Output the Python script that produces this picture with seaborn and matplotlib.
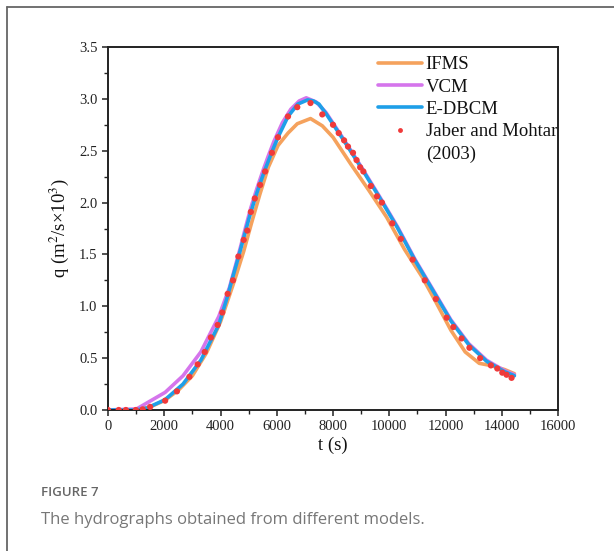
import numpy as np
import pandas as pd
import matplotlib
matplotlib.use("Agg")
import matplotlib.pyplot as plt
from matplotlib.lines import Line2D
import seaborn as sns

# ---------------- data ----------------
ifms_t = [0, 1000, 1500, 2000, 2500, 3000, 3500, 4000, 4500, 4825, 5100, 5400, 5700, 6044, 6400,
          6730, 7200, 7620, 8000, 8635, 9270, 9905, 10540, 11175, 11680, 12190, 12700, 13200,
          13590, 14100, 14450]
ifms_q = [0, 0.0, 0.03, 0.09, 0.19, 0.33, 0.55, 0.85, 1.25, 1.53, 1.80, 2.08, 2.34, 2.55, 2.67,
          2.76, 2.81, 2.74, 2.63, 2.37, 2.12, 1.86, 1.55, 1.28, 1.03, 0.77, 0.56, 0.45,
          0.43, 0.39, 0.35]

vcm_t = [0, 1016, 1397, 2032, 2667, 3302, 3937, 4317, 4500, 4700, 4900, 5079, 5300, 5500, 5700,
         5900, 6200, 6500, 6800, 7048, 7400, 7746, 8381, 9016, 9651, 10286, 10921, 11556, 12190,
         12825, 13460, 14095, 14450]
vcm_q = [0, 0.01, 0.07, 0.17, 0.33, 0.56, 0.90, 1.18, 1.36, 1.56, 1.77, 1.95, 2.14, 2.30, 2.45,
         2.59, 2.77, 2.90, 2.98, 3.01, 2.97, 2.87, 2.61, 2.34, 2.06, 1.77, 1.45, 1.16, 0.87,
         0.64, 0.48, 0.38, 0.34]

edbcm_t = [0, 1000, 1397, 2032, 2667, 3302, 3937, 4254, 4444, 4635, 4825, 5016, 5206, 5400,
           5587, 5800, 6044, 6400, 6750, 7100, 7300, 7500, 7746, 8381, 9016, 9651, 10286, 10921,
           11556, 12190, 12825, 13460, 14095, 14450]
edbcm_q = [0, 0.0, 0.02, 0.10, 0.25, 0.48, 0.82, 1.10, 1.29, 1.47, 1.66, 1.85, 2.02, 2.18,
           2.32, 2.47, 2.63, 2.83, 2.95, 2.99, 2.98, 2.95, 2.86, 2.60, 2.33, 2.05, 1.76, 1.44,
           1.15, 0.86, 0.63, 0.47, 0.37, 0.33]

obs_t = [0, 381, 635, 990, 1232, 1498, 2032, 2451, 2895, 3187, 3441, 3657, 3898, 4063, 4254,
         4444, 4635, 4825, 4952, 5079, 5219, 5410, 5587, 5829, 6044, 6400, 6730, 7200, 7619,
         8000, 8203, 8394, 8533, 8711, 8838, 8965, 9079, 9346, 9562, 9740, 10108, 10413, 10832,
         11263, 11657, 12038, 12279, 12571, 12851, 13232, 13613, 13841, 14019, 14171, 14349]
obs_q = [0, 0, 0, 0, 0.006, 0.03, 0.09, 0.18, 0.32, 0.44, 0.56, 0.70, 0.82, 0.94, 1.12,
         1.25, 1.48, 1.64, 1.73, 1.91, 2.04, 2.17, 2.30, 2.48, 2.63, 2.83, 2.92, 2.96, 2.85,
         2.75, 2.67, 2.60, 2.54, 2.48, 2.41, 2.34, 2.30, 2.16, 2.06, 2.00, 1.80, 1.65, 1.45,
         1.25, 1.07, 0.89, 0.80, 0.69, 0.60, 0.50, 0.43, 0.40, 0.36, 0.34, 0.31]

x_ticks = [0, 2000, 4000, 6000, 8000, 10000, 12000, 14000, 16000]
y_ticks = [0.0, 0.5, 1.0, 1.5, 2.0, 2.5, 3.0, 3.5]

c_ifms = "#F5A25D"
c_vcm = "#D575EC"
c_edbcm = "#1E9FE8"
c_obs = "#F03A3A"

# ---------------- plot ----------------
sns.set_theme(style="ticks")
plt.rcParams["font.family"] = ["Liberation Serif", "DejaVu Serif"]
plt.rcParams["mathtext.fontset"] = "stix"

fig = plt.figure(figsize=(6.14, 5.51), dpi=100)
ax = fig.add_axes([108 / 614, 1 - 410 / 551, 450 / 614, 363 / 551])

lw = 2.6
sns.lineplot(x=ifms_t, y=ifms_q, ax=ax, color=c_ifms, lw=lw, sort=False)
sns.lineplot(x=vcm_t, y=vcm_q, ax=ax, color=c_vcm, lw=lw, sort=False)
sns.lineplot(x=edbcm_t, y=edbcm_q, ax=ax, color=c_edbcm, lw=lw, sort=False)
sns.scatterplot(x=obs_t, y=obs_q, ax=ax, color=c_obs, s=20, edgecolor="none", zorder=5)

ax.set_xlim(0, 16000)
ax.set_ylim(0, 3.5)
ax.set_xticks(x_ticks)
ax.set_xticklabels([str(v) for v in x_ticks])
ax.set_yticks(y_ticks)
ax.set_yticklabels([f"{v:.1f}" for v in y_ticks])
ax.set_xticks(np.arange(1000, 16000, 2000), minor=True)
ax.set_yticks(np.arange(0.25, 3.5, 0.5), minor=True)
ax.tick_params(axis="both", which="major", direction="out", length=4.5, width=1.1,
               labelsize=10.5, colors="#222222", pad=3)
ax.tick_params(axis="both", which="minor", direction="out", length=3, width=1.0, colors="#222222")
for sp in ax.spines.values():
    sp.set_visible(True)
    sp.set_linewidth(1.4)
    sp.set_color("#222222")

ax.set_xlabel("t (s)", fontsize=13.5, labelpad=2, color="#111111")
ax.set_ylabel(r"q (m$^2$/s×10$^3$)", fontsize=13.5, labelpad=6, color="#111111")

handles = [
    Line2D([], [], color=c_ifms, lw=lw),
    Line2D([], [], color=c_vcm, lw=lw),
    Line2D([], [], color=c_edbcm, lw=lw),
    Line2D([], [], color=c_obs, marker="o", ms=3.5, lw=0, markeredgewidth=0),
    Line2D([], [], color="none", lw=0),
]
labels = ["IFMS", "VCM", "E-DBCM", "Jaber and Mohtar", "(2003)"]
leg = ax.legend(handles, labels, loc="upper left", bbox_to_anchor=(270 / 450, 0.975),
                frameon=False, fontsize=13.5, handlelength=2.35, handletextpad=0.2,
                labelspacing=0.28, borderaxespad=0, borderpad=0)
for t in leg.get_texts():
    t.set_color("#111111")

# figure card border and caption
fig.add_artist(Line2D([7 / 614, 1.0], [1 - 7 / 551, 1 - 7 / 551], transform=fig.transFigure,
                      color="#666666", lw=1.3))
fig.add_artist(Line2D([7 / 614, 7 / 614], [0, 1 - 7 / 551], transform=fig.transFigure,
                      color="#666666", lw=1.3))
fig.text(41 / 614, 1 - 493 / 551, "FIGURE 7", fontsize=9.5, color="#666666",
         family=["Open Sans", "DejaVu Sans"], weight="semibold", va="center", ha="left")
fig.text(41 / 614, 1 - 520 / 551, "The hydrographs obtained from different models.",
         fontsize=12, color="#777777", family=["Open Sans", "DejaVu Sans"],
         va="center", ha="left")

fig.savefig("out.png", dpi=100)
